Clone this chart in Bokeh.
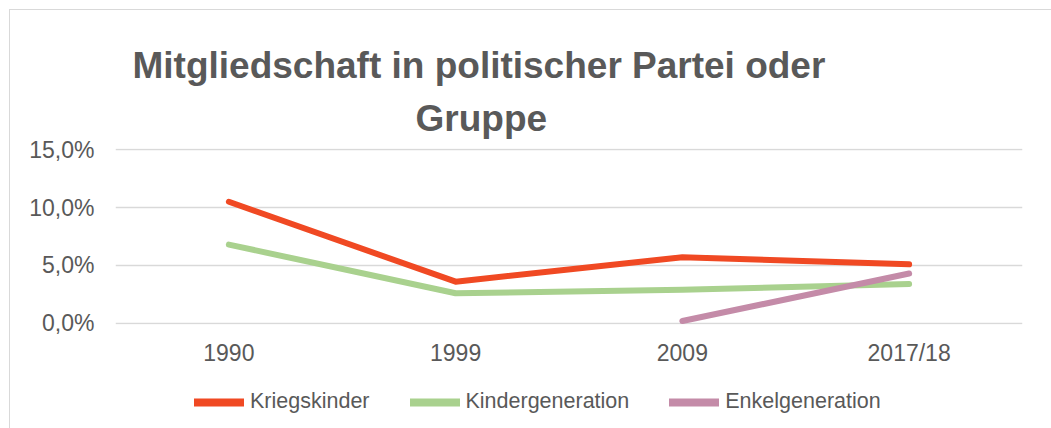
from bokeh.plotting import figure
from bokeh.layouts import column
from bokeh.models import Range1d, FactorRange, Legend, LegendItem, Title, FixedTicker
from bokeh.embed import file_html
from bokeh.resources import INLINE

categories = ["1990", "1999", "2009", "2017/18"]
kriegskinder = [10.5, 3.6, 5.7, 5.1]
kindergeneration = [6.8, 2.6, 2.9, 3.4]
enkel_categories = ["2009", "2017/18"]
enkelgeneration = [0.2, 4.3]
series_names = ["Kriegskinder", "Kindergeneration", "Enkelgeneration"]
series_colors = ["#F04923", "#A9D18E", "#C48BA8"]
y_ticks = [0, 5, 10, 15]
y_tick_labels = ["0,0%", "5,0%", "10,0%", "15,0%"]
title_lines = ["Mitgliedschaft in politischer Partei oder", "Gruppe"]

TEXT = "#595959"
FONT = "Liberation Sans"

p = figure(
    x_range=FactorRange(*categories, range_padding=0),
    y_range=Range1d(-0.1, 15.1),
    frame_width=907, frame_height=176,
    output_backend="svg", toolbar_location=None,
    min_border_left=105, min_border_right=29,
    min_border_top=138, min_border_bottom=50,
)
p.outline_line_color = None
p.xgrid.grid_line_color = None
p.ygrid.grid_line_color = "#d9d9d9"
p.ygrid.grid_line_width = 1.5

p.yaxis.ticker = FixedTicker(ticks=y_ticks)
p.yaxis.major_label_overrides = {t: l for t, l in zip(y_ticks, y_tick_labels)}
for ax in (p.xaxis[0], p.yaxis[0]):
    ax.axis_line_color = None
    ax.major_tick_line_color = None
    ax.minor_tick_line_color = None
    ax.major_tick_in = 0
    ax.major_tick_out = 0
    ax.major_label_text_font = FONT
    ax.major_label_text_font_size = "23px"
    ax.major_label_text_color = TEXT
p.yaxis.major_label_standoff = 21
p.xaxis.major_label_standoff = 15

series = [(categories, kriegskinder), (categories, kindergeneration), (enkel_categories, enkelgeneration)]
for (xs, ys), c in zip(series, series_colors):
    p.line(xs, ys, line_color=c, line_width=6, line_cap="round", line_join="round")

t2 = Title(text=title_lines[1], align="left", offset=300, standoff=20,
           text_font=FONT, text_font_size="37px", text_font_style="bold", text_color=TEXT)
t1 = Title(text=title_lines[0], align="left", offset=17, standoff=0,
           text_font=FONT, text_font_size="37px", text_font_style="bold", text_color=TEXT)
p.add_layout(t2, "above")
p.add_layout(t1, "above")

# legend strip below the chart (hidden copies of the series provide the legend keys)
lf = figure(width=1041, height=54, x_range=FactorRange(*categories, range_padding=0),
            y_range=Range1d(0, 15),
            output_backend="svg", toolbar_location=None,
            min_border_left=0, min_border_right=0, min_border_top=0, min_border_bottom=0)
lf.axis.visible = False
lf.grid.visible = False
lf.outline_line_color = None
keys = []
for name, (xs, ys), c in zip(series_names, series, series_colors):
    r = lf.line(xs, ys, line_color=c, line_width=8, line_cap="round", visible=False)
    keys.append(LegendItem(label=name, renderers=[r]))
legend = Legend(
    items=keys, orientation="horizontal", location=(79, 14),
    padding=0, margin=0, spacing=40, label_standoff=6,
    glyph_width=50, glyph_height=24, label_height=24,
    label_text_font=FONT, label_text_font_size="21.5px", label_text_color=TEXT,
    border_line_color=None, background_fill_alpha=0,
    inactive_fill_alpha=0,
)
lf.add_layout(legend, "center")

layout = column(p, lf, spacing=0,
                styles={"margin-left": "9px", "margin-top": "9px",
                        "border-left": "1px solid #d9d9d9", "border-top": "1px solid #d9d9d9"})

open("out.html", "w").write(file_html(layout, INLINE))
